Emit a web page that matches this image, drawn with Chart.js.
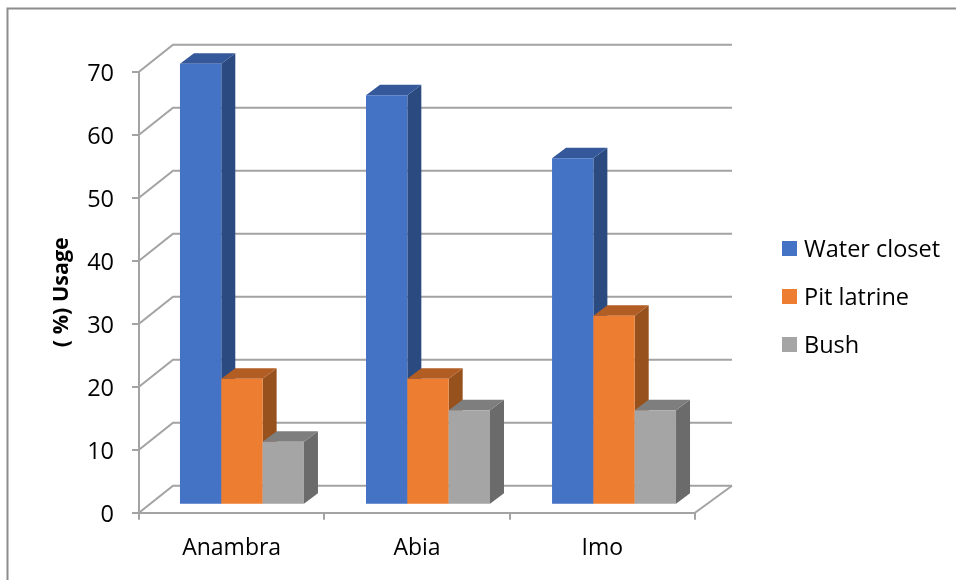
<!DOCTYPE html>
<html>
<head>
<meta charset="utf-8">
<title>Usage</title>
<script src="https://cdn.jsdelivr.net/npm/chart.js@4"></script>
<style>
  html, body { margin: 0; padding: 0; background: #fff; overflow: hidden; }
  canvas { display: block; }
</style>
</head>
<body>
<canvas id="myChart" width="956" height="580"></canvas>
<script>
const categories = ['Anambra', 'Abia', 'Imo'];
const waterCloset = [70, 65, 55];
const pitLatrine = [20, 20, 30];
const bush = [10, 15, 15];
const seriesNames = ['Water closet', 'Pit latrine', 'Bush'];
const yTicks = [0, 10, 20, 30, 40, 50, 60, 70];

const frontColors = ['#4472C4', '#ED7D31', '#A5A5A5'];
const topColors = ['#34589A', '#B25D24', '#7E7E7E'];
const sideColors = ['#2A4A80', '#97511C', '#6B6B6B'];
const gridColor = '#A3A3A3';
const fontName = '"Open Sans"';

// depth of the floor and of one bar, in pixels
const wallDx = 34, wallDy = 27;
const barDx = 14, barDy = 10.5;

function poly(c, pts, color) {
    c.fillStyle = color;
    c.beginPath();
    pts.forEach((p, i) => i ? c.lineTo(p[0], p[1]) : c.moveTo(p[0], p[1]));
    c.closePath();
    c.fill();
}

const frame3d = {
    id: 'frame3d',
    afterLayout(chart) {
        // nudge the y labels down a little, Open Sans sits high on 'middle'
        chart.scales.y.getLabelItems().forEach(item => { item.options.translation[1] += 3; });
    },
    beforeDraw(chart) {
        const c = chart.ctx;
        c.save();
        c.fillStyle = '#fff';
        c.fillRect(0, 0, chart.width, chart.height);
        // outer border, runs off the right and bottom
        c.strokeStyle = '#8C8C8C';
        c.lineWidth = 2;
        c.strokeRect(7.5, 8.5, 2000, 2000);
        c.restore();
    },
    beforeDatasetsDraw(chart) {
        const c = chart.ctx, y = chart.scales.y, area = chart.chartArea;
        c.save();
        c.strokeStyle = gridColor;
        c.lineWidth = 2;
        yTicks.forEach(v => {
            const py = y.getPixelForValue(v);
            c.beginPath();
            c.moveTo(area.left, py);
            c.lineTo(area.left + wallDx, py - wallDy);
            c.lineTo(area.right + 37, py - wallDy);
            c.stroke();
        });
        // right edge of the floor
        const py0 = y.getPixelForValue(0);
        c.beginPath();
        c.moveTo(area.right, py0);
        c.lineTo(area.right + 37, py0 - wallDy);
        c.stroke();
        c.restore();
    },
    beforeDatasetDraw() {
        return false; // bars are drawn below, with their side faces
    },
    afterDatasetsDraw(chart) {
        const c = chart.ctx;
        categories.forEach((cat, i) => {
            chart.data.datasets.forEach((ds, d) => {
                const bar = chart.getDatasetMeta(d).data[i];
                const l = bar.x - bar.width / 2, r = bar.x + bar.width / 2;
                c.save();
                // bars stand partway back on the floor
                c.translate(10.3 + 0.7 * i, -8);
                poly(c, [[r, bar.y], [r + barDx, bar.y - barDy], [r + barDx, bar.base - barDy], [r, bar.base]], sideColors[d]);
                poly(c, [[l, bar.y], [r, bar.y], [r + barDx, bar.y - barDy], [l + barDx, bar.y - barDy]], topColors[d]);
                bar.draw(c);
                c.restore();
            });
        });
    },
    afterDraw(chart) {
        const c = chart.ctx;
        c.save();
        c.font = '23.5px ' + fontName;
        c.textBaseline = 'middle';
        seriesNames.forEach((name, i) => {
            const ty = 248.5 + i * 48;
            c.fillStyle = frontColors[i];
            c.fillRect(782, ty - 7.5, 15, 15);
            c.fillStyle = '#000';
            c.fillText(name, 804, ty + 2);
        });
        c.restore();
    }
};

const myChart = new Chart(document.getElementById('myChart'), {
    type: 'bar',
    data: {
        labels: categories,
        datasets: [
            { label: seriesNames[0], data: waterCloset, backgroundColor: frontColors[0] },
            { label: seriesNames[1], data: pitLatrine, backgroundColor: frontColors[1] },
            { label: seriesNames[2], data: bush, backgroundColor: frontColors[2] }
        ]
    },
    options: {
        responsive: false,
        animation: false,
        categoryPercentage: 0.669,
        barPercentage: 1,
        layout: { padding: { left: 0, top: 71.7, right: 261, bottom: 0 } },
        plugins: { legend: { display: false }, tooltip: { enabled: false } },
        scales: {
            x: {
                afterFit(axis) { axis.height = 67.3; },
                grid: { drawOnChartArea: false, color: gridColor, lineWidth: 2, tickLength: 7 },
                border: { color: gridColor, width: 2 },
                ticks: { color: '#000', padding: 15, font: { family: fontName, size: 23 }, maxRotation: 0 }
            },
            y: {
                min: 0,
                max: 70,
                afterFit(axis) { axis.width = 139; },
                afterBuildTicks(axis) { axis.ticks = yTicks.map(v => ({ value: v })); },
                grid: { drawOnChartArea: false, color: gridColor, lineWidth: 2, tickLength: 7 },
                border: { color: gridColor, width: 2 },
                ticks: { color: '#000', padding: 18, font: { family: fontName, size: 23.5 } },
                title: {
                    display: true,
                    text: '( %) Usage',
                    color: '#000',
                    padding: { top: 49, bottom: 0 },
                    font: { family: fontName, size: 21.5, weight: 'bold' }
                }
            }
        }
    },
    plugins: [frame3d]
});
</script>
</body>
</html>
